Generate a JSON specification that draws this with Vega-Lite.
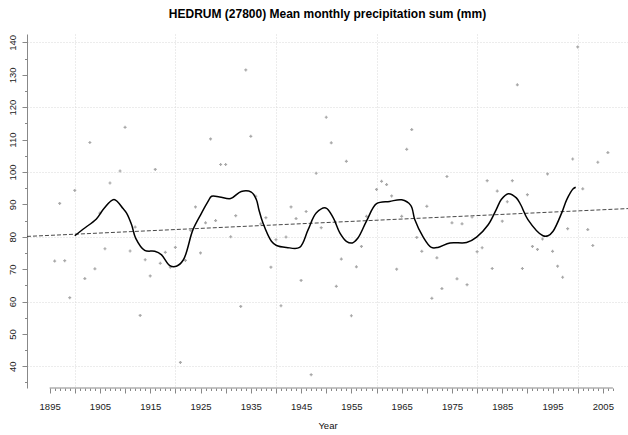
{
  "$schema": "https://vega.github.io/schema/vega-lite/v6.json",
  "autosize": "none",
  "width": 601,
  "height": 354,
  "padding": {"left": 27, "top": 34, "right": 0, "bottom": 47},
  "background": "white",
  "config": {
    "view": {"stroke": null},
    "font": "Liberation Sans",
    "axis": {"labelFont": "Liberation Sans", "titleFont": "Liberation Sans", "labelColor": "#222", "titleColor": "#111", "tickColor": "#888", "domainColor": "#888", "gridColor": "#d8d8d8", "gridDash": [1, 2]}
  },
  "title": {"text": "HEDRUM (27800) Mean monthly precipitation sum (mm)", "fontSize": 12, "fontWeight": "bold", "font": "Liberation Sans", "color": "#000", "anchor": "middle", "offset": 13},
  "datasets": {
    "obs": [
      {"year": 1896, "value": 72.5}, {"year": 1897, "value": 90.3}, {"year": 1898, "value": 72.6}, {"year": 1899, "value": 61.2},
      {"year": 1900, "value": 94.3}, {"year": 1902, "value": 67.1}, {"year": 1903, "value": 109.1}, {"year": 1904, "value": 70.1},
      {"year": 1905, "value": 87.3}, {"year": 1906, "value": 76.3}, {"year": 1907, "value": 96.6}, {"year": 1909, "value": 100.3},
      {"year": 1910, "value": 113.8}, {"year": 1911, "value": 75.6}, {"year": 1912, "value": 83.0}, {"year": 1913, "value": 55.7},
      {"year": 1914, "value": 72.9}, {"year": 1915, "value": 67.9}, {"year": 1916, "value": 100.8}, {"year": 1917, "value": 71.8},
      {"year": 1918, "value": 75.2}, {"year": 1919, "value": 70.6}, {"year": 1920, "value": 76.7}, {"year": 1921, "value": 41.2},
      {"year": 1922, "value": 72.7}, {"year": 1923, "value": 82.0}, {"year": 1924, "value": 89.2}, {"year": 1925, "value": 75.0},
      {"year": 1926, "value": 84.3}, {"year": 1927, "value": 110.2}, {"year": 1928, "value": 85.0}, {"year": 1929, "value": 102.3},
      {"year": 1930, "value": 102.3}, {"year": 1931, "value": 80.0}, {"year": 1932, "value": 86.5}, {"year": 1933, "value": 58.5},
      {"year": 1934, "value": 131.5}, {"year": 1935, "value": 111.0}, {"year": 1936, "value": 92.5}, {"year": 1937, "value": 84.0},
      {"year": 1938, "value": 85.9}, {"year": 1939, "value": 70.6}, {"year": 1940, "value": 79.1}, {"year": 1941, "value": 58.7},
      {"year": 1942, "value": 79.9}, {"year": 1943, "value": 89.2}, {"year": 1944, "value": 85.6}, {"year": 1945, "value": 66.5},
      {"year": 1946, "value": 87.8}, {"year": 1947, "value": 37.4}, {"year": 1948, "value": 99.6}, {"year": 1949, "value": 82.8},
      {"year": 1950, "value": 116.9}, {"year": 1951, "value": 109.0}, {"year": 1952, "value": 64.7}, {"year": 1953, "value": 73.1},
      {"year": 1954, "value": 103.3}, {"year": 1955, "value": 55.6}, {"year": 1956, "value": 70.7}, {"year": 1957, "value": 77.0},
      {"year": 1958, "value": 86.3}, {"year": 1960, "value": 94.6}, {"year": 1961, "value": 97.1}, {"year": 1962, "value": 96.1},
      {"year": 1963, "value": 92.6}, {"year": 1964, "value": 70.0}, {"year": 1965, "value": 86.3}, {"year": 1966, "value": 107.0},
      {"year": 1967, "value": 113.1}, {"year": 1968, "value": 79.8}, {"year": 1969, "value": 75.5}, {"year": 1970, "value": 89.4},
      {"year": 1971, "value": 61.0}, {"year": 1972, "value": 73.5}, {"year": 1973, "value": 64.0}, {"year": 1974, "value": 98.6},
      {"year": 1975, "value": 84.3}, {"year": 1976, "value": 67.0}, {"year": 1977, "value": 84.0}, {"year": 1978, "value": 65.2},
      {"year": 1979, "value": 86.1}, {"year": 1980, "value": 75.4}, {"year": 1981, "value": 76.6}, {"year": 1982, "value": 97.3},
      {"year": 1983, "value": 70.2}, {"year": 1984, "value": 94.1}, {"year": 1985, "value": 84.8}, {"year": 1986, "value": 90.8},
      {"year": 1987, "value": 97.3}, {"year": 1988, "value": 126.9}, {"year": 1989, "value": 70.2}, {"year": 1990, "value": 93.0},
      {"year": 1991, "value": 77.0}, {"year": 1992, "value": 76.1}, {"year": 1993, "value": 79.3}, {"year": 1994, "value": 99.4},
      {"year": 1995, "value": 75.5}, {"year": 1996, "value": 70.9}, {"year": 1997, "value": 67.5}, {"year": 1998, "value": 82.5},
      {"year": 1999, "value": 104.0}, {"year": 2000, "value": 138.6}, {"year": 2001, "value": 94.8}, {"year": 2002, "value": 82.2},
      {"year": 2003, "value": 77.3}, {"year": 2004, "value": 103.0}, {"year": 2006, "value": 106.0}
    ],
    "smooth": [
      {"year": 1900.0, "value": 80.3}, {"year": 1901.7, "value": 82.4}, {"year": 1904.3, "value": 85.5}, {"year": 1905.8, "value": 88.7},
      {"year": 1907.8, "value": 91.5}, {"year": 1909.6, "value": 88.7}, {"year": 1910.3, "value": 87.3}, {"year": 1911.3, "value": 83.7},
      {"year": 1912.1, "value": 79.6}, {"year": 1913.9, "value": 75.8}, {"year": 1915.9, "value": 75.5}, {"year": 1917.2, "value": 74.5},
      {"year": 1918.9, "value": 71.1}, {"year": 1920.2, "value": 70.9}, {"year": 1921.6, "value": 72.9}, {"year": 1923.5, "value": 82.2},
      {"year": 1925.2, "value": 87.3}, {"year": 1926.5, "value": 90.9}, {"year": 1927.2, "value": 92.5}, {"year": 1928.8, "value": 92.3},
      {"year": 1931.0, "value": 91.8}, {"year": 1933.1, "value": 94.0}, {"year": 1935.1, "value": 93.8}, {"year": 1936.1, "value": 91.5},
      {"year": 1936.6, "value": 88.4}, {"year": 1937.4, "value": 84.3}, {"year": 1939.1, "value": 78.6}, {"year": 1940.1, "value": 77.3},
      {"year": 1942.1, "value": 76.7}, {"year": 1944.7, "value": 76.7}, {"year": 1946.4, "value": 82.2}, {"year": 1948.0, "value": 87.3},
      {"year": 1949.9, "value": 88.9}, {"year": 1951.4, "value": 85.8}, {"year": 1952.7, "value": 81.2}, {"year": 1954.0, "value": 78.6},
      {"year": 1955.2, "value": 78.1}, {"year": 1956.3, "value": 79.6}, {"year": 1958.0, "value": 84.8}, {"year": 1960.0, "value": 90.2},
      {"year": 1962.6, "value": 90.9}, {"year": 1965.0, "value": 91.4}, {"year": 1966.8, "value": 89.7}, {"year": 1967.6, "value": 85.3},
      {"year": 1969.2, "value": 80.1}, {"year": 1970.9, "value": 76.7}, {"year": 1972.2, "value": 76.7}, {"year": 1974.6, "value": 78.1},
      {"year": 1977.9, "value": 78.2}, {"year": 1979.9, "value": 79.9}, {"year": 1982.2, "value": 83.7}, {"year": 1983.8, "value": 88.4},
      {"year": 1984.8, "value": 91.5}, {"year": 1986.2, "value": 93.3}, {"year": 1987.8, "value": 92.0}, {"year": 1988.7, "value": 89.8},
      {"year": 1990.1, "value": 85.3}, {"year": 1993.1, "value": 80.3}, {"year": 1994.1, "value": 80.3}, {"year": 1995.1, "value": 81.7},
      {"year": 1996.8, "value": 87.3}, {"year": 1997.8, "value": 91.4}, {"year": 1999.1, "value": 94.8}, {"year": 1999.6, "value": 95.3}
    ],
    "trend": [{"year": 1890.5, "value": 80.1}, {"year": 2010.0, "value": 88.7}]
  },
  "resolve": {"axis": {"x": "independent", "y": "independent"}},
  "layer": [
    {
      "data": {"name": "trend"},
      "mark": {"type": "line", "color": "#333", "strokeWidth": 0.9, "strokeDash": [4, 2]},
      "encoding": {
        "x": {"field": "year", "type": "quantitative", "scale": {"domain": [1890.5, 2010], "nice": false, "zero": false},
              "axis": {"orient": "bottom", "values": [1900, 1920, 1940, 1960, 1980, 2000], "grid": true, "labels": false, "ticks": false, "domain": false, "title": null}},
        "y": {"field": "value", "type": "quantitative", "scale": {"domain": [33.3, 142.6], "nice": false, "zero": false},
              "axis": {"orient": "left", "values": [40, 60, 80, 100, 120, 140], "grid": true, "labels": false, "ticks": false, "domain": false, "title": null}}
      }
    },
    {
      "data": {"name": "obs"},
      "mark": {"type": "point", "shape": "cross", "filled": true, "size": 9, "color": "#a8a8a8", "opacity": 1},
      "encoding": {
        "x": {"field": "year", "type": "quantitative",
              "axis": {"orient": "bottom", "values": [1895, 1905, 1915, 1925, 1935, 1945, 1955, 1965, 1975, 1985, 1995, 2005], "format": "d", "grid": false, "domain": false, "tickSize": 5, "labelFontSize": 9.5, "labelPadding": 8, "labelFlush": false, "labelOverlap": false, "title": "Year", "titleFontSize": 9.5, "titleFontWeight": "normal", "titlePadding": 10}},
        "y": {"field": "value", "type": "quantitative",
              "axis": {"orient": "left", "values": [40, 50, 60, 70, 80, 90, 100, 110, 120, 130, 140], "grid": false, "domain": true, "tickSize": 5, "labelFontSize": 9.5, "labelAngle": 270, "labelAlign": "center", "labelBaseline": "bottom", "labelPadding": 5, "labelFlush": false, "labelOverlap": false, "title": null}}
      }
    },
    {
      "data": {"name": "smooth"},
      "mark": {"type": "line", "color": "#000", "strokeWidth": 1.5, "interpolate": "catmull-rom"},
      "encoding": {
        "x": {"field": "year", "type": "quantitative",
              "axis": {"orient": "bottom", "values": [1900, 1910, 1920, 1930, 1940, 1950, 1960, 1970, 1980, 1990, 2000], "labels": false, "grid": false, "domain": false, "tickSize": 5, "title": null}},
        "y": {"field": "value", "type": "quantitative",
              "axis": {"orient": "left", "values": [35, 45, 55, 65, 75, 85, 95, 105, 115, 125, 135], "labels": false, "grid": false, "domain": false, "tickSize": 2.5, "title": null}}
      }
    },
    {
      "data": {"values": [{"a": 1}]},
      "mark": {"type": "rule", "color": "#888", "strokeWidth": 1},
      "encoding": {
        "x": {"datum": 1895, "type": "quantitative",
              "axis": {"orient": "bottom", "values": [1896, 1897, 1898, 1899, 1901, 1902, 1903, 1904, 1906, 1907, 1908, 1909, 1911, 1912, 1913, 1914, 1916, 1917, 1918, 1919, 1921, 1922, 1923, 1924, 1926, 1927, 1928, 1929, 1931, 1932, 1933, 1934, 1936, 1937, 1938, 1939, 1941, 1942, 1943, 1944, 1946, 1947, 1948, 1949, 1951, 1952, 1953, 1954, 1956, 1957, 1958, 1959, 1961, 1962, 1963, 1964, 1966, 1967, 1968, 1969, 1971, 1972, 1973, 1974, 1976, 1977, 1978, 1979, 1981, 1982, 1983, 1984, 1986, 1987, 1988, 1989, 1991, 1992, 1993, 1994, 1996, 1997, 1998, 1999, 2001, 2002, 2003, 2004, 2006, 2007], "labels": false, "grid": false, "domain": false, "tickSize": 2.5, "title": null}},
        "x2": {"datum": 2007},
        "y": {"datum": 33.3, "type": "quantitative", "axis": null}
      }
    }
  ]
}
